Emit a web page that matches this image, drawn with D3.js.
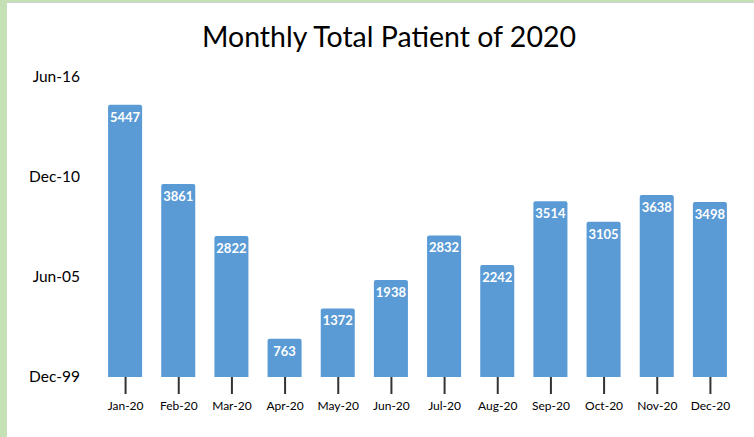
<!DOCTYPE html>
<html>
<head>
<meta charset="utf-8">
<script src="https://cdn.jsdelivr.net/npm/d3@7"></script>
<style>
  body { margin: 0; background: #fff; }
  svg { display: block; font-family: Lato, "Open Sans", sans-serif; }
</style>
</head>
<body>
<svg id="chart" width="754" height="437"></svg>
<script>
const months = ['Jan-20','Feb-20','Mar-20','Apr-20','May-20','Jun-20','Jul-20','Aug-20','Sep-20','Oct-20','Nov-20','Dec-20'];
const patients = [5447, 3861, 2822, 763, 1372, 1938, 2832, 2242, 3514, 3105, 3638, 3498];
const yTicks = [0, 2000, 4000, 6000];
const yTickLabels = ['Dec-99', 'Jun-05', 'Dec-10', 'Jun-16'];

const svg = d3.select('#chart');
const width = +svg.attr('width'), height = +svg.attr('height');

// frame like the spreadsheet cell border
svg.append('rect').attr('x', 0).attr('y', 0).attr('width', width).attr('height', 2).attr('fill', '#c5e0b4');
svg.append('rect').attr('x', 0).attr('y', 2).attr('width', width).attr('height', 1).attr('fill', '#d0d0d0');
svg.append('rect').attr('x', 0).attr('y', 0).attr('width', 7).attr('height', height).attr('fill', '#c5e0b4');

const x = d3.scaleBand().domain(months).range([98.5, 736.5]).paddingInner(0.36).paddingOuter(0.18);
const y = d3.scaleLinear().domain([0, 6000]).range([377, 77]);

svg.append('text')
    .attr('x', 389).attr('y', 47)
    .attr('text-anchor', 'middle')
    .attr('font-size', 28.5)
    .attr('fill', '#000')
    .text('Monthly Total Patient of 2020');

// y axis labels only, no line
const yAxis = svg.append('g').attr('transform', 'translate(80,0)')
    .call(d3.axisLeft(y).tickValues(yTicks).tickSize(0).tickPadding(0)
        .tickFormat((d, i) => yTickLabels[i]));
yAxis.select('.domain').remove();
yAxis.selectAll('text').attr('font-size', 15.5).attr('fill', '#000').attr('font-family', 'Lato, sans-serif');

// x axis: ticks centred under bars, no domain line
const xCenter = d3.scalePoint().domain(months).range([x(months[0]) + x.bandwidth() / 2, x(months[11]) + x.bandwidth() / 2]);
const xAxis = svg.append('g').attr('transform', 'translate(0,377)')
    .call(d3.axisBottom(xCenter).tickSize(17).tickPadding(7));
xAxis.select('.domain').remove();
xAxis.selectAll('line').attr('stroke', '#333').attr('stroke-width', 2);
xAxis.selectAll('text').attr('font-size', 12).attr('fill', '#000').attr('font-family', 'Lato, sans-serif');

const r = 2;
svg.append('g').selectAll('path')
    .data(patients)
    .join('path')
    .attr('fill', '#5b9bd5')
    .attr('d', (d, i) => {
        const x0 = x(months[i]), w = x.bandwidth(), yt = y(d), yb = y(0);
        return `M${x0},${yb}V${yt + r}Q${x0},${yt} ${x0 + r},${yt}H${x0 + w - r}Q${x0 + w},${yt} ${x0 + w},${yt + r}V${yb}Z`;
    });

svg.append('g').selectAll('text')
    .data(patients)
    .join('text')
    .attr('x', (d, i) => x(months[i]) + x.bandwidth() / 2)
    .attr('y', d => y(d) + 17)
    .attr('text-anchor', 'middle')
    .attr('font-size', 13)
    .attr('font-weight', 'bold')
    .attr('fill', '#fff')
    .text(d => d);
</script>
</body>
</html>
